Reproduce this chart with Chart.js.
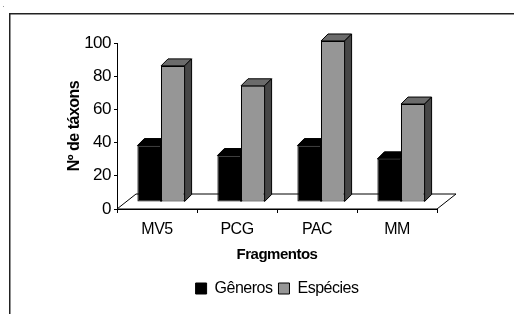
<!DOCTYPE html>
<html lang="pt">
<head>
<meta charset="UTF-8">
<title>Nº de táxons por fragmento</title>
<script src="https://cdn.jsdelivr.net/npm/chart.js"></script>
<style>
  html, body { margin: 0; padding: 0; background: #fff; }
  #wrap { width: 514px; height: 314px; }
</style>
</head>
<body>
<div id="wrap"><canvas id="taxChart" width="514" height="314"></canvas></div>
<script>
const categories = ['MV5', 'PCG', 'PAC', 'MM'];
const generos = [34, 28, 34, 26];
const especies = [82, 70, 97, 59];
const seriesNames = ['Gêneros', 'Espécies'];
const yMin = 0, yMax = 100, yStep = 20;

// fake 3d: floor depth, where the bars stand on it, depth of one bar
const FLOOR_DX = 19, FLOOR_DY = 15;
const SHIFT_X = 4, SHIFT_Y = 7;
const BAR_DX = 7, BAR_DY = 7;
const GRAY = '#969696', GRAY_TOP = '#6b6b6b', GRAY_SIDE = '#474747';

Chart.defaults.font.family = '"Liberation Sans", Arial, sans-serif';
Chart.defaults.color = '#000';

function face(ctx, pts, fill) {
    ctx.beginPath();
    ctx.moveTo(pts[0][0], pts[0][1]);
    for (let i = 1; i < pts.length; i++) ctx.lineTo(pts[i][0], pts[i][1]);
    ctx.closePath();
    ctx.fillStyle = fill;
    ctx.fill();
    ctx.strokeStyle = '#000';
    ctx.lineWidth = 1;
    ctx.stroke();
}

function barFaces(ctx, bar, topColor, sideColor) {
    const p = bar.getProps(['x', 'y', 'base', 'width'], true);
    const l = p.x - p.width / 2, r = p.x + p.width / 2;
    face(ctx, [[l, p.y], [r, p.y], [r + BAR_DX, p.y - BAR_DY], [l + BAR_DX, p.y - BAR_DY]], topColor);
    face(ctx, [[r, p.y], [r + BAR_DX, p.y - BAR_DY], [r + BAR_DX, p.base - BAR_DY], [r, p.base]], sideColor);
}

// the original text is a bit tall and squeezed
function tighten(chart) { chart.ctx.letterSpacing = '-0.5px'; }

const depthPlugin = {
    id: 'depth',
    beforeUpdate: tighten,
    beforeDraw(chart) {
        tighten(chart);
        const ctx = chart.ctx;
        ctx.save();
        ctx.fillStyle = '#fff';
        ctx.fillRect(0, 0, chart.width, chart.height);
        ctx.fillStyle = '#222';
        ctx.fillRect(9, 13, chart.width - 9, 1.5);
        ctx.fillRect(9, 13, 1.5, chart.height - 13);
        ctx.fillStyle = '#999';
        ctx.fillRect(3, 6, 1, 1);
        ctx.restore();
    },
    beforeDatasetsDraw(chart) {
        const ctx = chart.ctx, a = chart.chartArea;
        face(ctx, [[a.left, a.bottom], [a.right, a.bottom],
                   [a.right + FLOOR_DX, a.bottom - FLOOR_DY], [a.left + FLOOR_DX, a.bottom - FLOOR_DY]], '#fff');
        ctx.save();
        ctx.translate(SHIFT_X, -SHIFT_Y);
        // black bars' faces go first, the gray fronts cover what is hidden
        chart.getDatasetMeta(0).data.forEach(b => barFaces(ctx, b, '#000', '#000'));
    },
    afterDatasetsDraw(chart) {
        chart.getDatasetMeta(1).data.forEach(b => barFaces(chart.ctx, b, GRAY_TOP, GRAY_SIDE));
        chart.ctx.restore();
    }
};

new Chart(document.getElementById('taxChart'), {
    type: 'bar',
    data: {
        labels: categories,
        datasets: [
            { label: seriesNames[0], data: generos, backgroundColor: '#000', borderColor: '#000',
              borderWidth: 1, borderSkipped: false, clip: false },
            { label: seriesNames[1], data: especies, backgroundColor: GRAY, borderColor: '#000',
              borderWidth: 1, borderSkipped: false, clip: false }
        ]
    },
    options: {
        responsive: false,
        animation: false,
        layout: { padding: { left: 0, top: 43, right: 77, bottom: 7.5 } },
        datasets: { bar: { categoryPercentage: 0.59, barPercentage: 1 } },
        plugins: {
            legend: {
                position: 'bottom',
                fullSize: false,
                labels: { boxWidth: 11, boxHeight: 11, padding: 6, font: { size: 16 } }
            },
            tooltip: { enabled: false }
        },
        scales: {
            x: {
                grid: { drawOnChartArea: false, tickLength: 4, color: '#000' },
                border: { color: '#000' },
                ticks: { padding: 7, font: { size: 16 } },
                title: { display: true, text: 'Fragmentos', font: { size: 15, weight: 'bold' },
                         padding: { top: 0, bottom: 10.5 } },
                afterFit(s) { s.height = 65.5; }
            },
            y: {
                min: yMin,
                max: yMax,
                grid: { drawOnChartArea: false, tickLength: 3, color: '#000' },
                border: { color: '#000' },
                ticks: { stepSize: yStep, padding: 3, font: { size: 17 } },
                title: { display: true, text: 'Nº de táxons', font: { size: 16, weight: 'bold' },
                         padding: { top: 65, bottom: 0 } },
                afterFit(s) { s.width = 117; }
            }
        }
    },
    plugins: [depthPlugin]
});
</script>
</body>
</html>
